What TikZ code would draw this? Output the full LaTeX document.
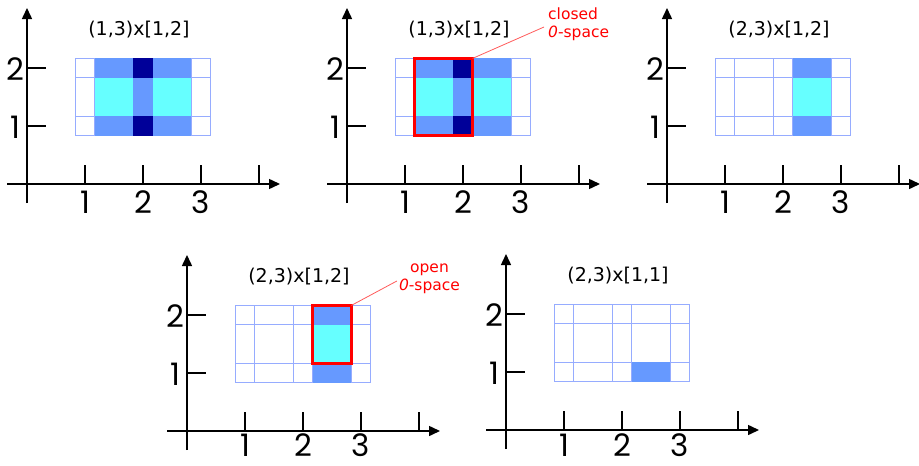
\documentclass[tikz,border=0pt]{standalone}
\usepackage{fontspec}
\setmainfont{DejaVu Sans}
\newfontfamily\axfont{Poppins}
\usetikzlibrary{arrows.meta}
\definecolor{cellcyan}{RGB}{102,255,255}
\definecolor{cellblue}{RGB}{102,153,255}
\definecolor{cellnavy}{RGB}{0,0,153}
\definecolor{gridblue}{RGB}{150,172,255}
\definecolor{annred}{RGB}{255,0,0}
\definecolor{leadred}{RGB}{255,90,90}
\tikzset{
  axisline/.style={line width=1.5pt,-{Triangle[length=11pt,width=10pt]}},
  ticmark/.style={line width=1.2pt},
  axlabel/.style={font=\axfont\fontsize{31}{31}\selectfont,inner sep=0pt,anchor=base},
  ptitle/.style={font=\fontsize{19}{19}\selectfont,inner sep=0pt},
  gridline/.style={draw=gridblue,line width=0.9pt},
  zspace/.style={draw=annred,line width=2.6pt},
  leader/.style={draw=leadred,line width=0.8pt},
  note/.style={font=\fontsize{15.5}{18}\selectfont,text=annred,inner sep=0pt},
}
% #1 name, #2 ox, #3 oy, #4 title, #5 fills, #6 extras, #7 x-label baseline
\newcommand{\mypanel}[7]{%
  \begin{scope}[shift={(#2,#3)}]
    \foreach \xa/\xb in {48.4/67.6,67.6/106.4,106.4/125.6,125.6/164.4,164.4/183.6}
      \foreach \ya/\yb in {48.4/67.6,67.6/106.4,106.4/125.6}
        \draw[gridline] (\xa,-\ya) rectangle (\xb,-\yb);
    #5
    \coordinate (#1-xs) at (-20,0);
    \coordinate (#1-xe) at (253,0);
    \coordinate (#1-ys) at (0,19);
    \coordinate (#1-ye) at (0,-176);
    \draw[axisline] (#1-xs) -- (#1-xe);
    \draw[axisline] (#1-ys) -- (#1-ye);
    \foreach \k in {1,2,3,4}
      \draw[ticmark] (58*\k,-19) -- (58*\k,0);
    \foreach \k in {1,2}
      \draw[ticmark] (0,-58*\k) -- (19,-58*\k);
    \node[axlabel] (#1-x1) at (58,#7) {1};
    \node[axlabel] (#1-x2) at (116,#7) {2};
    \node[axlabel] (#1-x3) at (174,#7) {3};
    \node[axlabel] (#1-y1) at (-12,-46) {1};
    \node[axlabel] (#1-y2) at (-12,-104) {2};
    \node[ptitle] (#1-t) at (112,-154) {#4};
    #6
  \end{scope}}
\newcommand{\fillwide}{%
  \fill[cellblue] (67.6,-48.4) rectangle (164.4,-67.6);
  \fill[cellblue] (67.6,-106.4) rectangle (164.4,-125.6);
  \fill[cellcyan] (67.6,-67.6) rectangle (164.4,-106.4);
  \fill[cellblue] (106.4,-67.6) rectangle (125.6,-106.4);
  \fill[cellnavy] (106.4,-48.4) rectangle (125.6,-67.6);
  \fill[cellnavy] (106.4,-106.4) rectangle (125.6,-125.6);}
\newcommand{\fillcol}{%
  \fill[cellblue] (125.6,-48.4) rectangle (164.4,-67.6);
  \fill[cellblue] (125.6,-106.4) rectangle (164.4,-125.6);
  \fill[cellcyan] (125.6,-67.6) rectangle (164.4,-106.4);}
\begin{document}
\begin{tikzpicture}[x=1pt,y=-1pt]
\useasboundingbox (0,0) rectangle (919,466);
\mypanel{pa}{27}{184}{(1,3)x[1,2]}{\fillwide}{}{29}
\mypanel{pb}{347}{184}{(1,3)x[1,2]}{\fillwide}{%
  \draw[zspace] (67.6,-48.4) rectangle (125.6,-125.6);
  \coordinate (pb-rc) at (125.6,-125.6);
  \node[note,align=left,anchor=west] (pb-note) at (201,-160) {closed\\{\itshape 0}-space};
  \draw[leader] (pb-rc) -- ([xshift=-4pt,yshift=-3pt]pb-note.west);}{29}
\mypanel{pc}{667}{184}{(2,3)x[1,2]}{\fillcol}{}{29}
\mypanel{pd}{187}{431}{(2,3)x[1,2]}{\fillcol}{%
  \draw[zspace] (125.6,-67.6) rectangle (164.4,-125.6);
  \coordinate (pd-rc) at (164.4,-125.6);
  \node[note,align=center] (pd-note) at (242.5,-152) {open\\{\itshape 0}-space};
  \draw[leader] (pd-rc) -- ([xshift=-2pt,yshift=-2pt]pd-note.west);}{25}
\mypanel{pe}{506}{430}{(2,3)x[1,1]}{%
  \fill[cellblue] (125.6,-48.4) rectangle (164.4,-67.6);}{}{26}
\end{tikzpicture}
\end{document}
